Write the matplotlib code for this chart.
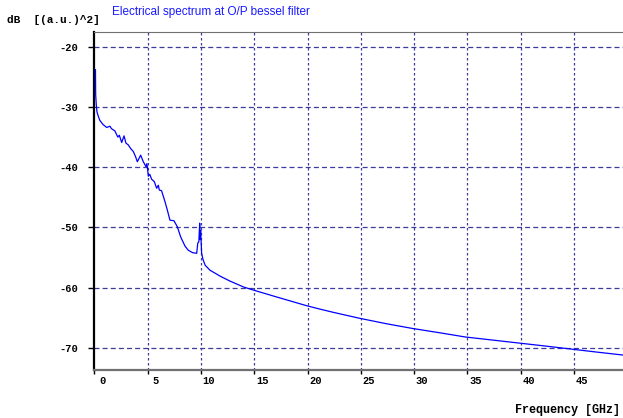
import numpy as np
import matplotlib.pyplot as plt
from matplotlib.transforms import ScaledTranslation

# spectrum (GHz, dB)
freq = [0.10, 0.12, 0.18, 0.24, 0.32, 0.50, 0.80, 1.15, 1.46, 1.60, 1.77, 1.93,
        2.09, 2.20, 2.34, 2.56, 2.78, 2.96, 3.18, 3.40, 3.65, 3.85, 4.03, 4.34,
        4.59, 4.84, 4.93, 5.06, 5.20, 5.37, 5.62, 5.84, 6.00, 6.09, 6.30, 6.62,
        6.84, 7.09, 7.47, 7.78, 8.10, 8.50, 8.81, 9.22, 9.60, 9.70, 9.80, 9.88,
        9.92, 9.97, 10.06, 10.20, 10.40, 10.84, 11.8, 12.7, 14.0, 14.9, 16.8,
        18.35, 19.9, 21.0, 22.4, 24.9, 27.4, 29.9, 32.4, 34.8, 37.3, 39.8, 42.3,
        44.7, 47.1, 49.6]
power = [-23.8, -28.0, -29.7, -30.8, -31.3, -32.2, -32.9, -33.4, -33.2, -33.6,
         -33.8, -34.0, -34.6, -35.0, -34.7, -35.9, -34.8, -36.0, -36.3, -36.9,
         -37.4, -38.2, -39.1, -38.0, -39.1, -39.9, -39.4, -41.5, -41.2, -42.0,
         -42.4, -43.5, -43.0, -43.8, -43.9, -45.7, -47.1, -48.8, -48.9, -49.9,
         -51.6, -53.1, -53.8, -54.2, -54.3, -52.6, -52.4, -49.3, -52.0, -50.5,
         -54.3, -55.4, -56.3, -57.1, -58.1, -58.9, -59.9, -60.4, -61.4, -62.2,
         -63.0, -63.5, -64.1, -65.1, -66.0, -66.8, -67.5, -68.2, -68.7, -69.2,
         -69.7, -70.2, -70.7, -71.2]

xticks = [0, 5, 10, 15, 20, 25, 30, 35, 40, 45]
yticks = [-20, -30, -40, -50, -60, -70]

fig = plt.figure(figsize=(6.23, 4.18), dpi=100)
ax = fig.add_axes([94.4/623, 1 - 369.5/418, 1 - 94.4/623, (369.5 - 31.7)/418])

ax.plot(freq, power, color='#0000ff', lw=0.9, zorder=3)

ax.set_xlim(0, 49.6)
ax.set_ylim(-73.6, -17.5)

gridcol = '#3c3c9c'
for y in yticks:
    ax.axhline(y, color=gridcol, lw=0.9, ls=(0, (4, 2.5)), zorder=0)
for x in xticks[1:]:
    ax.axvline(x, color=gridcol, lw=0.9, ls=(0, (2, 2)), zorder=0)

ax.spines['right'].set_visible(False)
ax.spines['left'].set_color('black')
ax.spines['left'].set_linewidth(1.6)
ax.spines['bottom'].set_color('#707070')
ax.spines['bottom'].set_linewidth(1.6)
ax.spines['top'].set_color('#707070')
ax.spines['top'].set_linewidth(0.8)

mono = 'Liberation Mono'
ax.set_yticks(yticks)
ax.set_yticklabels([str(v) for v in yticks], family=mono, fontsize=7.5,
                   fontweight='bold')
ax.tick_params(axis='y', length=4, width=1, pad=8)

ax.set_xticks(xticks)
ax.set_xticklabels([])
ax.tick_params(axis='x', length=3, width=1)
off = ScaledTranslation(8/100, -6/100, fig.dpi_scale_trans)
for v in xticks:
    ax.text(v, 0, str(v), transform=ax.get_xaxis_transform() + off,
            ha='center', va='top', family=mono, fontsize=7.5, fontweight='bold')

fig.text(7/623, 1 - 20/418, 'dB  [(a.u.)^2]', family=mono, fontsize=8,
         fontweight='bold', ha='left', va='center')
fig.text(620/623, 1 - 410/418, 'Frequency [GHz]', family=mono, fontsize=8.5,
         fontweight='bold', ha='right', va='center')
fig.text(112/623, 1 - 12/418, 'Electrical spectrum at O/P bessel filter',
         family='Liberation Sans', fontsize=8.5, color='#1a1aff',
         ha='left', va='center')

fig.savefig('out.png', dpi=100)
